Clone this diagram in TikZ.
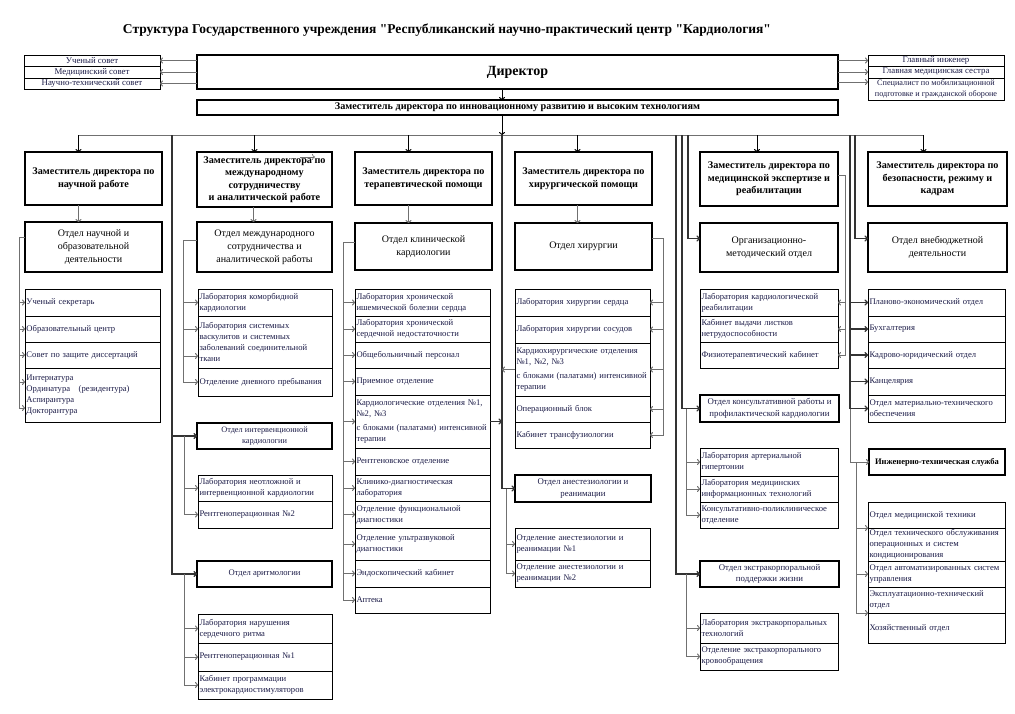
\documentclass[tikz,border=0pt]{standalone}
\usepackage{fontspec}
\setmainfont{Liberation Serif}
\newfontfamily\plainquote{Liberation Serif}
\usetikzlibrary{positioning,arrows.meta}
\definecolor{ink}{HTML}{1C1C48}
\definecolor{wirecol}{HTML}{707070}
\newcommand{\qt}{{\plainquote"}}

\begin{document}
\begin{tikzpicture}[x=1pt, y=-1pt,
  head node/.style={draw, line width=2.4pt, anchor=north west, align=center, inner sep=1pt, outer sep=0pt, font=\fontsize{10.2}{12.5}\selectfont\bfseries},
  dept node/.style={draw, line width=2.4pt, anchor=north west, align=center, inner sep=1pt, outer sep=0pt, font=\fontsize{10}{13}\selectfont},
  sect node/.style={draw, line width=2.2pt, anchor=north west, align=center, inner sep=1pt, outer sep=0pt, font=\fontsize{#1}{11.5}\selectfont, text=ink},
  sub node/.style={draw, line width=0.8pt, anchor=north west, align=left, text width=#1, inner xsep=1.5pt, inner ysep=1pt, outer sep=0pt, font=\fontsize{8.6}{11}\selectfont, text=ink},
  side node/.style={draw, line width=0.8pt, anchor=north west, minimum width=136pt, align=center, inner sep=0.5pt, outer sep=0pt, font=\fontsize{8.8}{10}\selectfont, text=ink},
  wire/.style={draw=wirecol, line width=1pt},
  tip/.style={-{To[length=3pt,width=6pt]}},
  bwire/.style={draw=black!80, line width=1.3pt, -{To[length=3.5pt,width=6pt]}}]

  \fill[white] (0,0) rectangle (1015,713);
  \useasboundingbox (0,0) rectangle (1015,713);

  \node[font=\fontsize{13.5}{16}\selectfont\bfseries] (title) at (447,30) {Структура Государственного учреждения \qt Республиканский научно-практический центр \qt Кардиология\qt};

  \node[side node, minimum height=11pt] (c1) at (24,55) {Ученый совет};
  \node[side node, minimum height=12pt, below=0pt of c1] (c2) {Медицинский совет};
  \node[side node, minimum height=11pt, below=0pt of c2] (c3) {Научно-технический совет};
  \node[side node, minimum height=11pt] (r1) at (868,55) {Главный инженер};
  \node[side node, minimum height=12pt, below=0pt of r1] (r2) {Главная медицинская сестра};
  \node[side node, minimum height=22pt, below=0pt of r2, font=\fontsize{8.2}{10.5}\selectfont] (r3) {Специалист по мобилизационной\\подготовке и гражданской обороне};

  \node[draw, line width=2.4pt, anchor=north west, outer sep=0pt, minimum width=641pt, minimum height=34pt, font=\fontsize{14}{16}\selectfont\bfseries] (dir) at (197,55) {Директор};
  \node[draw, line width=2.4pt, anchor=north west, outer sep=0pt, minimum width=641pt, minimum height=15pt, inner sep=0pt, font=\fontsize{10.2}{12}\selectfont\bfseries] (inno) at (197,100) {Заместитель директора по инновационному развитию и высоким технологиям};

  \node[head node, minimum width=137pt, minimum height=53pt] (d1) at (25,152) {Заместитель директора по\\научной работе};
  \node[head node, minimum width=135pt, minimum height=55pt] (d2) at (197,152) {Заместитель директора по\\международному\\сотрудничеству\\и аналитической работе};
  \node[head node, minimum width=137pt, minimum height=53pt] (d3) at (355,152) {Заместитель директора по\\терапевтической помощи};
  \node[head node, minimum width=137pt, minimum height=53pt] (d4) at (515,152) {Заместитель директора по\\хирургической помощи};
  \node[head node, minimum width=138pt, minimum height=54pt] (d5) at (700,152) {Заместитель директора по\\медицинской экспертизе и\\реабилитации};
  \node[head node, minimum width=139pt, minimum height=54pt] (d6) at (868,152) {Заместитель директора по\\безопасности, режиму и\\кадрам};

  \node[dept node, minimum width=137pt, minimum height=50pt] (o1) at (25,222) {Отдел научной и\\образовательной\\деятельности};
  \node[dept node, minimum width=135pt, minimum height=50pt] (o2) at (197,222) {Отдел международного\\сотрудничества и\\аналитической работы};
  \node[dept node, minimum width=137pt, minimum height=47pt] (o3) at (355,223) {Отдел клинической\\кардиологии};
  \node[dept node, minimum width=137pt, minimum height=47pt] (o4) at (515,223) {Отдел хирургии};
  \node[dept node, minimum width=138pt, minimum height=49pt] (o5) at (700,223) {Организационно-\\методический отдел};
  \node[dept node, minimum width=139pt, minimum height=49pt] (o6) at (868,223) {Отдел внебюджетной\\деятельности};

  \node[sub node=132pt, minimum height=27pt] (u1a) at (25,289) {Ученый секретарь};
  \node[sub node=132pt, minimum height=26pt, below=0pt of u1a] (u1b) {Образовательный центр};
  \node[sub node=132pt, minimum height=26pt, below=0pt of u1b] (u1c) {Совет по защите диссертаций};
  \node[sub node=132pt, minimum height=54pt, below=0pt of u1c] (u1d) {Интернатура\\Ординатура~~~(резидентура)\\Аспирантура\\Докторантура};

  \node[sub node=131pt, minimum height=27pt] (u2a) at (198,289) {Лаборатория коморбидной\\кардиологии};
  \node[sub node=131pt, minimum height=52pt, below=0pt of u2a] (u2b) {Лаборатория системных\\васкулитов и системных\\заболеваний соединительной\\ткани};
  \node[sub node=131pt, minimum height=28pt, below=0pt of u2b] (u2c) {Отделение дневного пребывания};

  \node[sect node=8.3, minimum width=135pt, minimum height=26pt] (iv) at (197,423) {Отдел интервенционной\\кардиологии};
  \node[sub node=131pt, minimum height=26pt] (iv1) at (198,475) {Лаборатория неотложной и\\интервенционной кардиологии};
  \node[sub node=131pt, minimum height=27pt, below=0pt of iv1] (iv2) {Рентгеноперационная №2};
  \node[sect node=8.6, minimum width=135pt, minimum height=26pt] (ar) at (197,561) {Отдел аритмологии};
  \node[sub node=131pt, minimum height=29pt] (ar1) at (198,614) {Лаборатория нарушения\\сердечного ритма};
  \node[sub node=131pt, minimum height=28pt, below=0pt of ar1] (ar2) {Рентгеноперационная №1};
  \node[sub node=131pt, minimum height=28pt, below=0pt of ar2] (ar3) {Кабинет программации\\электрокардиостимуляторов};

  \node[sub node=132pt, minimum height=27pt] (u3a) at (355,289) {Лаборатория хронической\\ишемической болезни сердца};
  \node[sub node=132pt, minimum height=26pt, below=0pt of u3a] (u3b) {Лаборатория хронической\\сердечной недостаточности};
  \node[sub node=132pt, minimum height=26pt, below=0pt of u3b] (u3c) {Общебольничный персонал};
  \node[sub node=132pt, minimum height=27pt, below=0pt of u3c] (u3d) {Приемное отделение};
  \node[sub node=132pt, minimum height=53pt, below=0pt of u3d] (u3e) {Кардиологические отделения №1,\\№2, №3\\[3pt]с блоками (палатами) интенсивной\\терапии};
  \node[sub node=132pt, minimum height=27pt, below=0pt of u3e] (u3f) {Рентгеновское отделение};
  \node[sub node=132pt, minimum height=26pt, below=0pt of u3f] (u3g) {Клинико-диагностическая\\лаборатория};
  \node[sub node=132pt, minimum height=27pt, below=0pt of u3g] (u3h) {Отделение функциональной\\диагностики};
  \node[sub node=132pt, minimum height=32pt, below=0pt of u3h] (u3i) {Отделение ультразвуковой\\диагностики};
  \node[sub node=132pt, minimum height=27pt, below=0pt of u3i] (u3j) {Эндоскопический кабинет};
  \node[sub node=132pt, minimum height=26pt, below=0pt of u3j] (u3k) {Аптека};

  \node[sub node=132pt, minimum height=27pt] (u4a) at (515,289) {Лаборатория хирургии сердца};
  \node[sub node=132pt, minimum height=27pt, below=0pt of u4a] (u4b) {Лаборатория хирургии сосудов};
  \node[sub node=132pt, minimum height=53pt, below=0pt of u4b] (u4c) {Кардиохирургические отделения\\№1, №2, №3\\[3pt]с блоками (палатами) интенсивной\\терапии};
  \node[sub node=132pt, minimum height=26pt, below=0pt of u4c] (u4d) {Операционный блок};
  \node[sub node=132pt, minimum height=26pt, below=0pt of u4d] (u4e) {Кабинет трансфузиологии};
  \node[sect node=8.8, minimum width=136pt, minimum height=27pt] (an) at (515,475) {Отдел анестезиологии и\\реанимации};
  \node[sub node=132pt, minimum height=32pt] (an1) at (515,528) {Отделение анестезиологии и\\реанимации №1};
  \node[sub node=132pt, minimum height=27pt, below=0pt of an1] (an2) {Отделение анестезиологии и\\реанимации №2};

  \node[sub node=135pt, minimum height=27pt] (u5a) at (700,289) {Лаборатория кардиологической\\реабилитации};
  \node[sub node=135pt, minimum height=26pt, below=0pt of u5a] (u5b) {Кабинет выдачи листков\\нетрудоспособности};
  \node[sub node=135pt, minimum height=26pt, below=0pt of u5b] (u5c) {Физиотерапевтический кабинет};
  \node[sect node=8.8, minimum width=139pt, minimum height=27pt] (con) at (700,395) {Отдел консультативной работы и\\профилактической кардиологии};
  \node[sub node=135pt, minimum height=28pt] (cn1) at (700,448) {Лаборатория артериальной\\гипертонии};
  \node[sub node=135pt, minimum height=26pt, below=0pt of cn1] (cn2) {Лаборатория медицинских\\информационных технологий};
  \node[sub node=135pt, minimum height=26pt, below=0pt of cn2] (cn3) {Консультативно-поликлиническое\\отделение};
  \node[sect node=8.8, minimum width=139pt, minimum height=26pt] (ex) at (700,561) {Отдел экстракорпоральной\\поддержки жизни};
  \node[sub node=135pt, minimum height=30pt] (ex1) at (700,613) {Лаборатория экстракорпоральных\\технологий};
  \node[sub node=135pt, minimum height=27pt, below=0pt of ex1] (ex2) {Отделение экстракорпорального\\кровообращения};

  \node[sub node=134pt, minimum height=27pt] (u6a) at (868,289) {Планово-экономический отдел};
  \node[sub node=134pt, minimum height=26pt, below=0pt of u6a] (u6b) {Бухгалтерия};
  \node[sub node=134pt, minimum height=26pt, below=0pt of u6b] (u6c) {Кадрово-юридический отдел};
  \node[sub node=134pt, minimum height=27pt, below=0pt of u6c] (u6d) {Канцелярия};
  \node[sub node=134pt, minimum height=27pt, below=0pt of u6d] (u6e) {Отдел материально-технического\\обеспечения};
  \node[sect node=8.5, minimum width=136pt, minimum height=26pt, font=\fontsize{8.5}{11}\selectfont\bfseries, text=black] (eng) at (869,449) {Инженерно-техническая служба};
  \node[sub node=134pt, minimum height=26pt] (e1) at (868,502) {Отдел медицинской техники};
  \node[sub node=134pt, minimum height=33pt, below=0pt of e1] (e2) {Отдел технического обслуживания\\операционных и систем\\кондиционирования};
  \node[sub node=134pt, minimum height=26pt, below=0pt of e2] (e3) {Отдел автоматизированных систем\\управления};
  \node[sub node=134pt, minimum height=26pt, below=0pt of e3] (e4) {Эксплуатационно-технический\\отдел};
  \node[sub node=134pt, minimum height=30pt, below=0pt of e4] (e5) {Хозяйственный отдел};

  \coordinate (k0) at (502,135);
  \coordinate (k2) at (172,135);
  \coordinate (k5a) at (676,135);
  \coordinate (k5b) at (682,135);
  \coordinate (k5c) at (688,135);
  \coordinate (k6a) at (850,135);
  \coordinate (k6b) at (855,135);
  \coordinate (t1) at (19,237);
  \coordinate (t2) at (183,240);
  \coordinate (t3) at (343,242);
  \coordinate (t4) at (663,238);
  \coordinate (t5) at (845,175);
  \coordinate (x2) at (184,0);
  \coordinate (x4) at (506,0);
  \coordinate (x5) at (686,0);
  \coordinate (x6) at (856,0);
  \coordinate (s1) at (300,157);
  \coordinate (s2) at (315,157);

  \foreach \c in {c1,c2,c3} \draw[wire,tip] (dir.west |- \c.east) -- (\c.east);
  \foreach \r in {r1,r2} \draw[wire,tip] (dir.east |- \r.west) -- (\r.west);
  \coordinate (r3in) at ([yshift=-4pt]r3.north west);
  \draw[wire,tip] (dir.east |- r3in) -- (r3in);

  \draw[draw=black, line width=1pt, tip] (dir.south -| k0) -- (inno.north -| k0);
  \draw[draw=black, line width=1pt, tip] (inno.south -| k0) -- (k0);
  \draw[wire] ([xshift=-15pt]d1.north |- k0) -- ([xshift=-14pt]d6.north |- k0);
  \foreach \d/\s in {d1/-15pt,d2/-10pt,d3/-15pt,d4/-6pt,d5/-12pt,d6/-14pt}
    \draw[draw=black, line width=1pt, tip] ([xshift=\s]\d.north |- k0) -- ([xshift=\s]\d.north);
  \foreach \d/\o/\s in {d1/o1/-15pt,d2/o2/-11pt,d3/o3/-15pt,d4/o4/-6pt}
    \draw[wire,tip] ([xshift=\s]\d.south) -- ([xshift=\s]\o.north);
  \draw[wire,tip,line width=0.7pt] (s1) -- (s2);

  % trunks from the bus
  \draw[bwire] (k0) |- (an.west);
  \draw[bwire] (u3e.east) -- (u3e.east -| k0);
  \draw[wire,tip] (u4c.west) -- (u4c.west -| k0);
  \draw[bwire] (k2) |- (iv.west);
  \draw[bwire] (k2) |- (ar.west);
  \draw[bwire] (k5c) |- ([yshift=9pt]o5.west);
  \draw[bwire] (k5b) |- (con.west);
  \draw[bwire] (k5a) |- (ex.west);
  \draw[bwire] (k6b) |- ([yshift=9pt]o6.west);
  \draw[wire,tip] (k6a) |- (eng.west);
  \foreach \u in {u6a,u6b,u6c,u6d,u6e} \draw[bwire] (k6a) |- (\u.west);

  % units
  \draw[wire] (t1) -- (t1 -| o1.west);
  \foreach \u in {u1a,u1b,u1c} \draw[wire,tip] (t1) |- (\u.west);
  \draw[wire,tip] (t1) |- ([yshift=13pt]u1d.west);
  \draw[wire,tip] (t1) |- ([yshift=-13pt]u1d.west);
  \draw[wire] (t2) -- (t2 -| o2.west);
  \foreach \u in {u2a,u2c} \draw[wire,tip] (t2) |- (\u.west);
  \draw[wire,tip] (t2) |- ([yshift=13pt]u2b.west);
  \draw[wire,tip] (t2) |- ([yshift=-14pt]u2b.west);
  \foreach \u in {iv1,iv2} \draw[wire,tip] (iv.west -| x2) |- (\u.west);
  \foreach \u in {ar1,ar2,ar3} \draw[wire,tip] (ar.west -| x2) |- (\u.west);
  \draw[wire] (t3) -- (t3 -| o3.west);
  \foreach \u in {u3a,u3b,u3c,u3d,u3e,u3f,u3g,u3h,u3i,u3j,u3k} \draw[wire,tip] (t3) |- (\u.west);
  \draw[wire] (t4) -- (t4 -| o4.east);
  \foreach \u in {u4a,u4b,u4c,u4d,u4e} \draw[wire,tip] (t4) |- (\u.east);
  \foreach \u in {an1,an2} \draw[wire,tip] (an.west -| x4) |- (\u.west);
  \draw[wire] (t5) -- (t5 -| d5.east);
  \foreach \u in {u5a,u5b,u5c} \draw[wire,tip] (t5) |- (\u.east);
  \foreach \u in {cn1,cn2,cn3} \draw[wire,tip] (con.west -| x5) |- (\u.west);
  \foreach \u in {ex1,ex2} \draw[wire,tip] (ex.west -| x5) |- (\u.west);
  \draw[wire,tip] (eng.west -| x6) |- (e1.south west);
  \draw[wire,tip] (eng.west -| x6) |- (e3.west);
  \draw[wire,tip] (eng.west -| x6) |- (e4.south west);

\end{tikzpicture}
\end{document}
